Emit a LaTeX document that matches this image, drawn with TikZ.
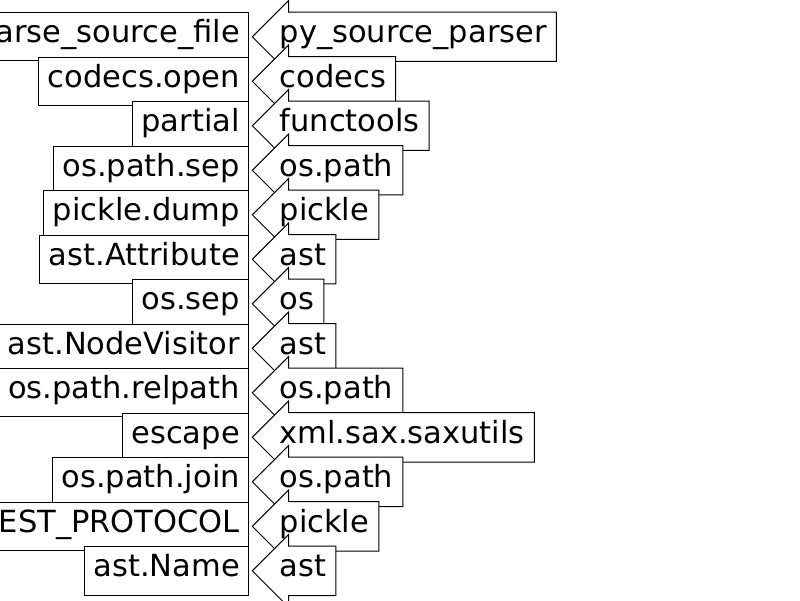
\documentclass[tikz,border=0pt]{standalone}
\usepackage{fontspec}
\setmainfont{DejaVu Sans}
\usetikzlibrary{shapes.arrows}

\begin{document}
\begin{tikzpicture}[x=1pt, y=1pt,
	symbox/.style={draw, fill=white, line width=1pt, inner xsep=9pt, inner ysep=0pt,
		text height=30.1pt, text depth=18.2pt, anchor=base east,
		font=\fontsize{30.5}{36}\selectfont},
	modarrow/.style={draw, fill=white, line width=1pt, single arrow, shape border rotate=180,
		single arrow head extend=11.5pt, inner xsep=0pt, inner ysep=0pt,
		text height=30.1pt, text depth=18.2pt, anchor=text,
		execute at begin node={\kern2.2pt}, execute at end node={\kern9.15pt},
		font=\fontsize{30.5}{36}\selectfont}]
	\useasboundingbox (0,0) rectangle (800,600);
	\clip (0,0) rectangle (800,600);
	% imported names
	\path (249.3,557.2) node [symbox] (sym1) {parse\_source\_file};
	\path (249.3,512.7) node [symbox] (sym2) {codecs.open};
	\path (249.3,468.2) node [symbox] (sym3) {partial};
	\path (249.3,423.7) node [symbox] (sym4) {os.path.sep};
	\path (249.3,379.2) node [symbox] (sym5) {pickle.dump};
	\path (249.3,334.7) node [symbox] (sym6) {ast.Attribute};
	\path (249.3,290.2) node [symbox] (sym7) {os.sep};
	\path (249.3,245.7) node [symbox] (sym8) {ast.NodeVisitor};
	\path (249.3,201.2) node [symbox] (sym9) {os.path.relpath};
	\path (249.3,156.7) node [symbox] (sym10) {escape};
	\path (249.3,112.2) node [symbox] (sym11) {os.path.join};
	\path (249.3,67.7) node [symbox] (sym12) {pickle.HIGHEST\_PROTOCOL};
	\path (249.3,23.2) node [symbox] (sym13) {ast.Name};
	% modules
	\path (277.5,557.2) node [modarrow] (mod1) {py\_source\_parser};
	\path (277.5,512.7) node [modarrow] (mod2) {codecs};
	\path (277.5,468.2) node [modarrow] (mod3) {functools};
	\path (277.5,423.7) node [modarrow] (mod4) {os.path};
	\path (277.5,379.2) node [modarrow] (mod5) {pickle};
	\path (277.5,334.7) node [modarrow] (mod6) {ast};
	\path (277.5,290.2) node [modarrow] (mod7) {os};
	\path (277.5,245.7) node [modarrow] (mod8) {ast};
	\path (277.5,201.2) node [modarrow] (mod9) {os.path};
	\path (277.5,156.7) node [modarrow] (mod10) {xml.sax.saxutils};
	\path (277.5,112.2) node [modarrow] (mod11) {os.path};
	\path (277.5,67.7) node [modarrow] (mod12) {pickle};
	\path (277.5,23.2) node [modarrow] (mod13) {ast};
\end{tikzpicture}
\end{document}
